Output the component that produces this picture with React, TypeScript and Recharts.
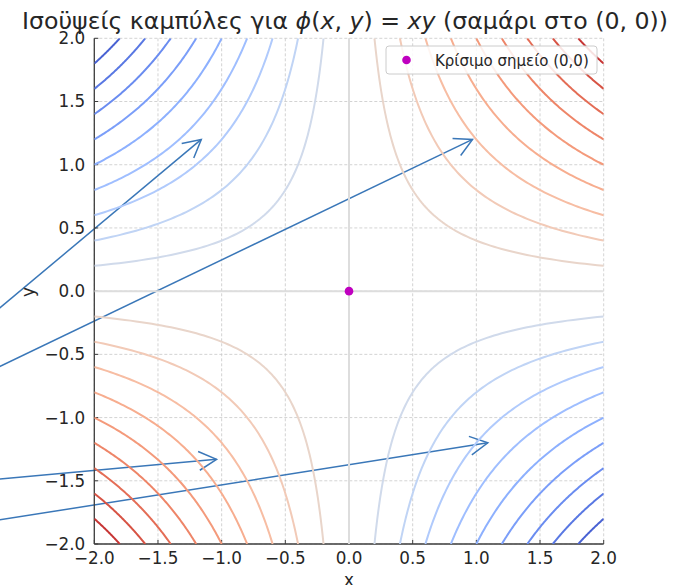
import { CartesianGrid, ReferenceLine, Scatter, ScatterChart, XAxis, YAxis } from "recharts";

const W = 686;
const H = 585;
const FONT = "'DejaVu Sans', sans-serif";

// axis ticks
const ticks = [-2, -1.5, -1, -0.5, 0, 0.5, 1, 1.5, 2];

// contour levels of phi(x, y) = x*y (step 0.4, zero drawn separately)
const levels = [-3.6, -3.2, -2.8, -2.4, -2.0, -1.6, -1.2, -0.8, -0.4, 0.4, 0.8, 1.2, 1.6, 2.0, 2.4, 2.8, 3.2, 3.6];
const levelRange = [-4, 4];

const saddle = [{ x: 0, y: 0 }];
const zeroX = [{ x: -2, y: 0 }, { x: 2, y: 0 }];
const zeroY = [{ x: 0, y: -2 }, { x: 0, y: 2 }];

// annotation arrows, tail (off to the left) -> tip
const arrowTails = [[-3, -0.35], [-3, -0.72], [-3, -1.51], [-3, -1.85]];
const arrowTips = [[-1.16, 1.2], [0.97, 1.2], [-1.04, -1.33], [1.09, -1.2]];

// coolwarm colormap
const coolwarm = [
  [59, 76, 192], [68, 90, 204], [77, 104, 215], [87, 117, 225], [98, 130, 234],
  [108, 142, 241], [119, 154, 247], [130, 165, 251], [141, 176, 254], [152, 185, 255],
  [163, 194, 255], [174, 201, 253], [184, 208, 249], [194, 213, 244], [204, 217, 238],
  [213, 219, 230], [221, 221, 221], [229, 216, 209], [236, 211, 197], [241, 204, 185],
  [245, 196, 173], [247, 187, 160], [247, 177, 148], [247, 166, 135], [244, 154, 123],
  [241, 141, 111], [236, 127, 99], [229, 112, 88], [222, 96, 77], [213, 80, 66],
  [203, 62, 56], [192, 40, 47], [180, 4, 38],
];

function levelColor(c: number) {
  const t = (c - levelRange[0]) / (levelRange[1] - levelRange[0]);
  const f = t * (coolwarm.length - 1);
  const i = Math.min(Math.floor(f), coolwarm.length - 2);
  const k = f - i;
  const rgb = coolwarm[i].map((v, j) => Math.round(v + (coolwarm[i + 1][j] - v) * k));
  return `rgb(${rgb.join(",")})`;
}

// one branch of x*y = c inside [-2,2]^2
function branch(c: number, sx: number, sy: number) {
  const s = Math.sqrt(Math.abs(c));
  const T = Math.log(2 / s);
  const n = 90;
  const pts = [];
  for (let i = 0; i <= n; i++) {
    const t = -T + (2 * T * i) / n;
    pts.push({ x: sx * s * Math.exp(t), y: sy * s * Math.exp(-t) });
  }
  return pts;
}

const contours = levels.flatMap((c) => {
  const quads = c > 0 ? [[1, 1], [-1, -1]] : [[-1, 1], [1, -1]];
  return quads.map(([sx, sy], k) => ({
    key: `c${c}-${k}`,
    color: levelColor(c),
    data: branch(c, sx, sy),
  }));
});

const fmt = (v: number) => v.toFixed(1).replace("-", "\u2212");

const NoDot = () => <g />;

function ArrowShape(props: any) {
  const { x1, y1, x2, y2 } = props;
  const ang = Math.atan2(y2 - y1, x2 - x1);
  const L = 20;
  const a = (28 * Math.PI) / 180;
  const bx1 = x2 - L * Math.cos(ang - a);
  const by1 = y2 - L * Math.sin(ang - a);
  const bx2 = x2 - L * Math.cos(ang + a);
  const by2 = y2 - L * Math.sin(ang + a);
  return (
    <g>
      <line x1={x1} y1={y1} x2={x2} y2={y2} stroke="#3a77b8" strokeWidth={1.5} />
      <polyline
        points={`${bx1},${by1} ${x2},${y2} ${bx2},${by2}`}
        fill="none"
        stroke="#3a77b8"
        strokeWidth={1.5}
      />
    </g>
  );
}

const axisStyle = {
  type: "number" as const,
  domain: [-2, 2],
  ticks,
  allowDataOverflow: true,
  tickSize: -4,
  tickFormatter: fmt,
  axisLine: { stroke: "#3d3d3d", strokeWidth: 1.3 },
  tickLine: { stroke: "#3d3d3d", strokeWidth: 1 },
  tick: { fill: "#262626", fontSize: 16.8, style: { fontFamily: FONT } },
};

export default function App() {
  return (
    <div
      style={{
        position: "absolute",
        left: 0,
        top: 0,
        width: W,
        height: H,
        background: "#fff",
        fontFamily: FONT,
      }}
    >
      <ScatterChart width={W} height={H} margin={{ top: 38.3, right: 82.3, bottom: 11, left: 34.3 }}>
        <CartesianGrid stroke="#c8c8c8" strokeWidth={0.8} strokeDasharray="3 2" />
        <XAxis dataKey="x" height={30} tickMargin={12} {...axisStyle} />
        <YAxis dataKey="y" width={60} tickMargin={13} {...axisStyle} />
        <Scatter data={zeroX} line={{ stroke: "#dddddd", strokeWidth: 2 }} shape={NoDot} isAnimationActive={false} />
        <Scatter data={zeroY} line={{ stroke: "#dddddd", strokeWidth: 2 }} shape={NoDot} isAnimationActive={false} />
        {contours.map((c) => (
          <Scatter
            key={c.key}
            data={c.data}
            line={{ stroke: c.color, strokeWidth: 2, strokeLinejoin: "round" }}
            shape={NoDot}
            isAnimationActive={false}
          />
        ))}
        <Scatter
          data={saddle}
          isAnimationActive={false}
          shape={(p: any) => <circle cx={p.cx} cy={p.cy} r={4.3} fill="#bf00bf" />}
        />
        {arrowTips.map((tip, i) => (
          <ReferenceLine
            key={`a${i}`}
            segment={[
              { x: arrowTails[i][0], y: arrowTails[i][1] },
              { x: tip[0], y: tip[1] },
            ]}
            ifOverflow="visible"
            shape={ArrowShape}
          />
        ))}
      </ScatterChart>
      <svg
        width={W}
        height={H}
        style={{ position: "absolute", left: 0, top: 0, pointerEvents: "none", fontFamily: FONT }}
      >
        <text
          x={22}
          y={29}
          fontSize={22.5}
          fill="#262626"
          textLength={646}
          lengthAdjust="spacingAndGlyphs"
        >
          Ισοϋψείς καμπύλες για <tspan fontStyle="italic">ϕ</tspan>(<tspan fontStyle="italic">x</tspan>,{" "}
          <tspan fontStyle="italic">y</tspan>) = <tspan fontStyle="italic">xy</tspan> (σαμάρι στο (0, 0))
        </text>
        <rect x={386} y={46} width={211} height={28} rx={3} fill="rgba(255,255,255,0.85)" stroke="#cccccc" />
        <circle cx={406.5} cy={60} r={4.3} fill="#bf00bf" />
        <text x={435} y={65.5} fontSize={15} fill="#262626">
          Κρίσιμο σημείο (0,0)
        </text>
        <text x={349} y={586} textAnchor="middle" fontSize={16.8} fill="#262626">
          x
        </text>
        <text x={34} y={292} textAnchor="middle" fontSize={16.8} fill="#262626" transform="rotate(-90 34 292)">
          y
        </text>
      </svg>
    </div>
  );
}
